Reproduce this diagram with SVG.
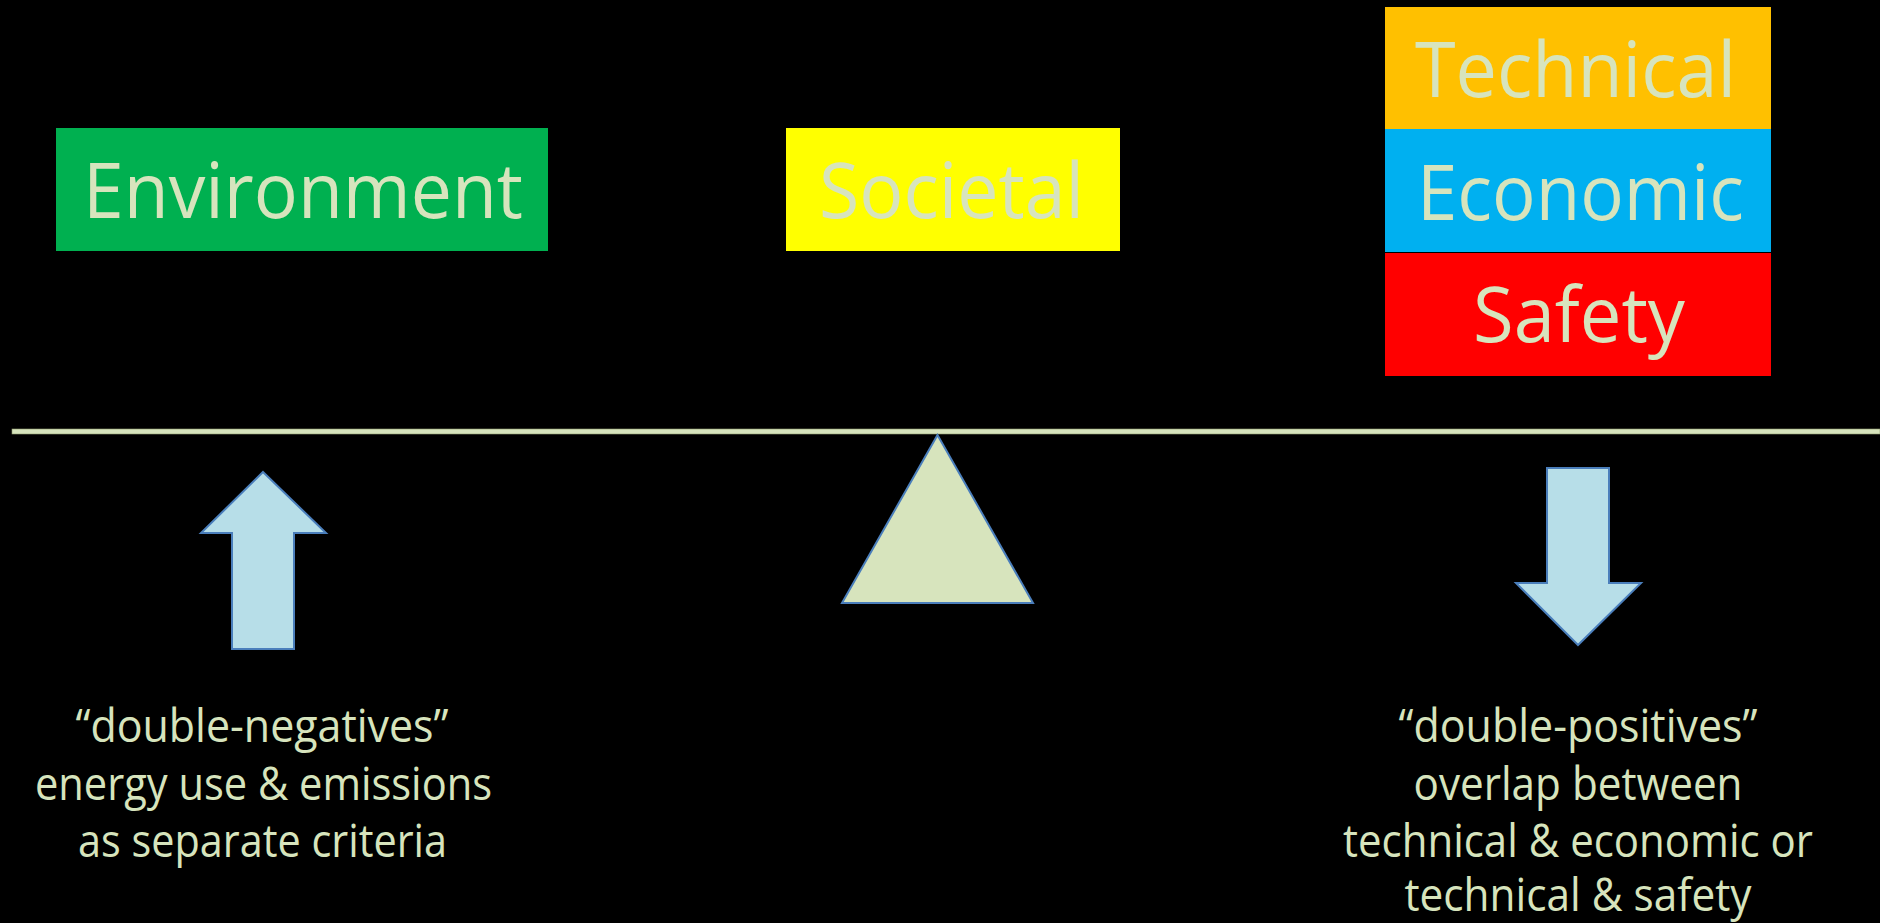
<svg xmlns="http://www.w3.org/2000/svg" width="1880" height="923" viewBox="0 0 1880 923">
  <style>
    .big { font-family: "Open Sans", "Noto Sans", sans-serif; font-size: 77px; fill: #D7E4BD; text-anchor: middle; }
    .note { font-family: "Open Sans", "Noto Sans", sans-serif; font-size: 45px; fill: #D7E4BD; text-anchor: middle; }
    .arrow { fill: #B7DEE8; stroke: #4A7EBB; stroke-width: 2; stroke-linejoin: miter; }
    .pivot { fill: #D7E4BD; stroke: #4A7EBB; stroke-width: 2; }
  </style>
  <rect x="0" y="0" width="1880" height="923" fill="#000000"/>

  <!-- left pan -->
  <g id="environment">
    <rect x="56" y="128" width="492" height="123" fill="#00B050"/>
    <text class="big" x="303" y="218" textLength="440" lengthAdjust="spacingAndGlyphs">Environment</text>
  </g>

  <!-- middle weight -->
  <g id="societal">
    <rect x="786" y="128" width="334" height="123" fill="#FFFF00"/>
    <text class="big" x="951.5" y="218" textLength="265" lengthAdjust="spacingAndGlyphs">Societal</text>
  </g>

  <!-- right stack -->
  <g id="technical">
    <rect x="1385" y="7" width="386" height="122" fill="#FFC000"/>
    <text class="big" x="1575.5" y="97" textLength="321" lengthAdjust="spacingAndGlyphs">Technical</text>
  </g>
  <g id="economic">
    <rect x="1385" y="129" width="386" height="123" fill="#00B0F0"/>
    <text class="big" x="1580.5" y="220" textLength="327" lengthAdjust="spacingAndGlyphs">Economic</text>
  </g>
  <g id="safety">
    <rect x="1385" y="253" width="386" height="123" fill="#FF0000"/>
    <text class="big" x="1579" y="342" textLength="212" lengthAdjust="spacingAndGlyphs">Safety</text>
  </g>

  <!-- balance beam and fulcrum -->
  <g id="beam">
    <rect x="12" y="429" width="1868" height="5" fill="#D7E4BD" stroke="#8E9A6E" stroke-width="0.6"/>
  </g>
  <g id="fulcrum">
    <polygon class="pivot" points="937.5,435 842,603 1033,603"/>
  </g>

  <!-- direction arrows -->
  <g id="connectors">
    <polygon class="arrow" points="263,472 326,533 294,533 294,649 232,649 232,533 201,533"/>
    <polygon class="arrow" points="1547,468 1609,468 1609,583 1641,583 1578,645 1516,583 1547,583"/>
  </g>

  <!-- notes -->
  <g id="note-left">
    <text class="note" x="262" y="742" textLength="373" lengthAdjust="spacingAndGlyphs">“double-negatives”</text>
    <text class="note" x="263.5" y="800" textLength="457" lengthAdjust="spacingAndGlyphs">energy use &amp; emissions</text>
    <text class="note" x="262.5" y="857" textLength="369" lengthAdjust="spacingAndGlyphs">as separate criteria</text>
  </g>
  <g id="note-right">
    <text class="note" x="1578" y="742" textLength="359" lengthAdjust="spacingAndGlyphs">“double-positives”</text>
    <text class="note" x="1578" y="800" textLength="329" lengthAdjust="spacingAndGlyphs">overlap between</text>
    <text class="note" x="1578" y="857" textLength="470" lengthAdjust="spacingAndGlyphs">technical &amp; economic or</text>
    <text class="note" x="1578" y="911" textLength="347" lengthAdjust="spacingAndGlyphs">technical &amp; safety</text>
  </g>
</svg>
